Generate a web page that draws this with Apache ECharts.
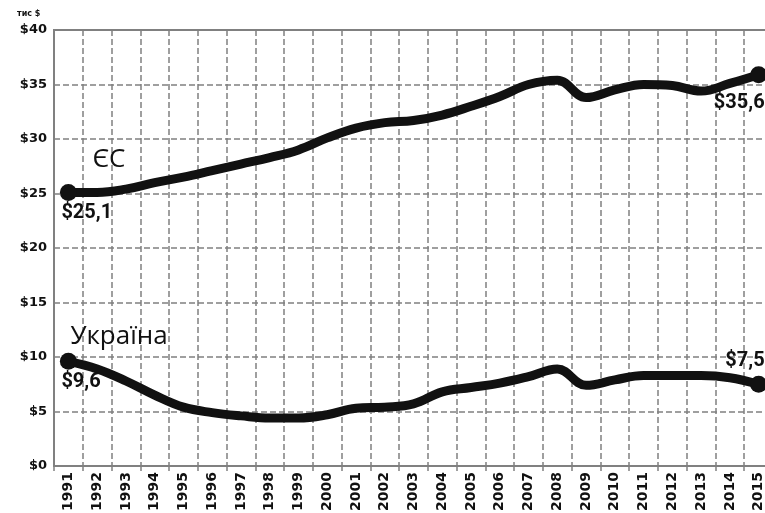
<!DOCTYPE html>
<html>
<head>
<meta charset="utf-8">
<script src="https://cdn.jsdelivr.net/npm/echarts@6/dist/echarts.min.js"></script>
<style>
  html, body { margin: 0; padding: 0; background: #fff; }
  #chart { width: 765px; height: 513px; }
</style>
</head>
<body>
<div id="chart"></div>
<script>
// data (тис $ per person)
const years = ['1991', '1992', '1993', '1994', '1995', '1996', '1997', '1998', '1999', '2000',
  '2001', '2002', '2003', '2004', '2005', '2006', '2007', '2008', '2009', '2010',
  '2011', '2012', '2013', '2014', '2015'];
const euValues = [25.1, 25.1, 25.4, 26.0, 26.5, 27.1, 27.7, 28.3, 29.0, 30.1,
  31.0, 31.5, 31.7, 32.2, 33.0, 33.9, 35.0, 35.4, 33.8, 34.5,
  35.0, 34.9, 34.4, 35.1, 35.9];
const uaValues = [9.6, 8.9, 7.8, 6.5, 5.4, 4.9, 4.6, 4.4, 4.4, 4.7,
  5.3, 5.4, 5.7, 6.8, 7.2, 7.6, 8.2, 8.9, 7.4, 7.9,
  8.3, 8.3, 8.3, 8.1, 7.5];
const euName = 'ЄС';
const uaName = 'Україна';
const euEndLabels = ['$25,1', '$35,6'];
const uaEndLabels = ['$9,6', '$7,5'];
const unitLabel = 'тис $';

const chart = echarts.init(document.getElementById('chart'));

const valueFont = { fontFamily: 'Roboto', fontWeight: 'bold', fontSize: 20, color: '#111' };
const nameFont = { fontFamily: 'Open Sans', fontSize: 26, color: '#111' };

// put labels on first and last point only
function buildData(values, endLabels, firstLabel, lastLabel) {
  return values.map((v, i) => {
    if (i === 0) {
      return { value: v, label: Object.assign({ show: true, formatter: endLabels[0] }, valueFont, firstLabel) };
    }
    if (i === values.length - 1) {
      return { value: v, label: Object.assign({ show: true, formatter: endLabels[1] }, valueFont, lastLabel) };
    }
    return v;
  });
}

function lineSeries(name, values, endLabels, firstLabel, lastLabel, nameOffset) {
  return {
    name: name,
    type: 'line',
    smooth: 0.4,
    symbol: 'circle',
    showAllSymbol: true,
    symbolSize: (val, p) => (p.dataIndex === 0 || p.dataIndex === values.length - 1) ? 17 : 0,
    itemStyle: { color: '#111' },
    lineStyle: { color: '#111', width: 9 },
    data: buildData(values, endLabels, firstLabel, lastLabel),
    markPoint: {
      symbol: 'circle',
      symbolSize: 1,
      itemStyle: { color: 'rgba(0,0,0,0)' },
      label: Object.assign({
        show: true, position: 'inside', align: 'left', verticalAlign: 'middle',
        offset: nameOffset, formatter: name
      }, nameFont),
      data: [{ coord: [years[0], values[0]] }]
    }
  };
}

const options = {
  animation: false,
  grid: {
    left: 54, top: 30, width: 719, height: 436,
    outerBoundsMode: 'none',
    show: true, borderColor: '#808080', borderWidth: 2
  },
  graphic: [{
    type: 'text', left: 17, top: 10,
    style: { text: unitLabel, font: 'bold 8px "DejaVu Sans"', fill: '#111' }
  }],
  xAxis: {
    type: 'category',
    data: years,
    boundaryGap: true,
    axisLine: { lineStyle: { color: '#808080', width: 2 } },
    axisTick: { show: true, length: 5, lineStyle: { color: '#808080', width: 1.5 } },
    axisLabel: {
      interval: 0, rotate: 90, align: 'left', verticalAlign: 'middle', margin: 45,
      fontFamily: 'DejaVu Sans', fontWeight: 'bold', fontSize: 14, color: '#111'
    },
    splitLine: { show: true, lineStyle: { color: '#808080', type: 'dashed', width: 1.5 } }
  },
  yAxis: {
    type: 'value',
    min: 0, max: 40, interval: 5,
    axisLine: { show: true, lineStyle: { color: '#808080', width: 2 } },
    axisTick: { show: false },
    axisLabel: {
      margin: 7, formatter: v => '$' + v,
      fontFamily: 'DejaVu Sans', fontWeight: 'bold', fontSize: 13, color: '#111'
    },
    splitLine: { show: true, lineStyle: { color: '#808080', type: 'dashed', width: 1.5 } }
  },
  series: [
    lineSeries(euName, euValues, euEndLabels,
      { position: 'bottom', align: 'left', verticalAlign: 'top', offset: [-7, -3] },
      { position: 'bottom', align: 'right', verticalAlign: 'top', offset: [6, 5] },
      [24, -33]),
    lineSeries(uaName, uaValues, uaEndLabels,
      { position: 'bottom', align: 'left', verticalAlign: 'top', offset: [-7, -3] },
      { position: 'top', align: 'right', verticalAlign: 'bottom', offset: [6, 0] },
      [2, -25])
  ]
};

chart.setOption(options);
</script>
</body>
</html>
